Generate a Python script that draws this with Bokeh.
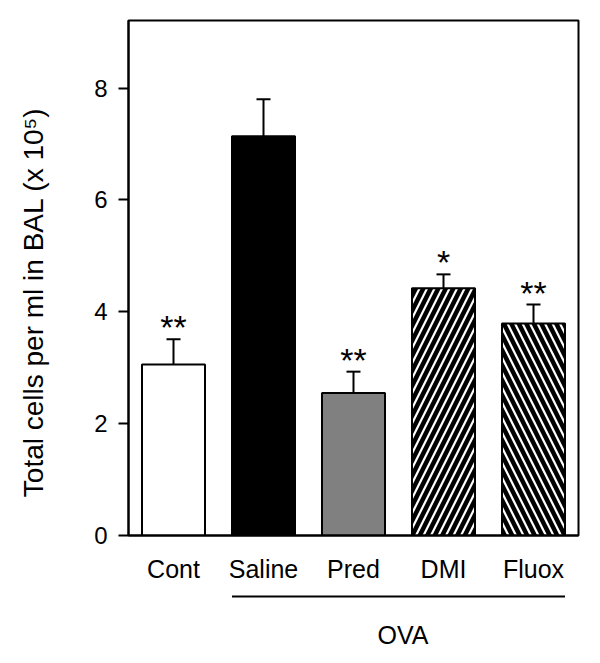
import math
from bokeh.plotting import figure
from bokeh.models import ColumnDataSource, FactorRange, Range1d, Whisker, TeeHead
from bokeh.layouts import column, row
from bokeh.embed import file_html
from bokeh.resources import INLINE
from bokeh.core.properties import value

# ---- data ----
groups = ["Cont", "Saline", "Pred", "DMI", "Fluox"]
means = [3.06, 7.14, 2.55, 4.42, 3.79]
errors = [0.45, 0.66, 0.38, 0.25, 0.34]
stars = ["**", "", "**", "*", "**"]
fills = ["white", "black", "#808080", "white", "white"]
hatches = [" ", " ", " ", "/", "\\"]
y_ticks = [0, 2, 4, 6, 8]
ova_groups = ["Saline", "Fluox"]
ova_label = "OVA"
y_label = "Total cells per ml in BAL (x 10\u2075)"

FONT = "Liberation Sans"
BAR_W = 0.7

upper = [m + e for m, e in zip(means, errors)]
src = ColumnDataSource(dict(x=groups, top=means, upper=upper, err=errors,
                            stars=stars, fill=fills, hatch=hatches))

xr = FactorRange(factors=groups)
yr = Range1d(0, 9.21)

# main plot
p = figure(width=532, height=585, x_range=xr, y_range=yr,
           toolbar_location=None, output_backend="svg",
           min_border_left=68, min_border_right=14,
           min_border_top=20, min_border_bottom=48)
p.outline_line_color = "black"
p.outline_line_width = 2
p.grid.visible = False
p.background_fill_color = "white"
p.border_fill_color = "white"

p.vbar(x="x", top="top", width=BAR_W, source=src,
       fill_color="fill", line_color="black", line_width=2,
       hatch_pattern="hatch", hatch_color="black", hatch_weight=4.5,
       hatch_scale=15)

w = Whisker(base="x", lower="top", upper="upper", source=src,
            line_color="black", line_width=2,
            upper_head=TeeHead(size=14, line_color="black", line_width=2),
            lower_head=None)
p.add_layout(w)

p.text(x="x", y="upper", text="stars", source=src,
       text_align="center", text_baseline="alphabetic",
       text_font=value(FONT), text_font_size="34px", text_color="black",
       y_offset=-12)

p.yaxis.ticker = y_ticks
p.yaxis.minor_tick_line_color = None
p.yaxis.major_tick_out = 10
p.yaxis.major_tick_in = 0
p.yaxis.major_tick_line_width = 2
p.yaxis.axis_line_width = 2
p.yaxis.major_label_text_font = FONT
p.yaxis.major_label_text_font_size = "24px"
p.yaxis.major_label_text_color = "black"
p.yaxis.major_label_standoff = 11

p.xaxis.major_tick_line_color = None
p.xaxis.minor_tick_line_color = None
p.xaxis.axis_line_width = 2
p.xaxis.major_label_text_font = FONT
p.xaxis.major_label_text_font_size = "25px"
p.xaxis.major_label_text_color = "black"
p.xaxis.major_label_standoff = 13

# left strip carrying the y-axis title (shares the y range)
pl = figure(width=60, height=585, x_range=Range1d(0, 1), y_range=yr,
            toolbar_location=None, output_backend="svg",
            x_axis_location=None, y_axis_location=None,
            min_border_left=0, min_border_right=0,
            min_border_top=20, min_border_bottom=48)
pl.outline_line_color = None
pl.grid.visible = False
pl.border_fill_color = "white"
pl.text(x=[0.55], y=[4.17], text=[y_label], angle=math.pi / 2,
        text_align="center", text_baseline="middle",
        text_font=value(FONT), text_font_size="28px", text_color="black")

# lower strip with OVA bracket
p2 = figure(width=592, height=78, x_range=xr, y_range=Range1d(0, 1),
            toolbar_location=None, output_backend="svg",
            x_axis_location=None, y_axis_location=None,
            min_border_left=128, min_border_right=14,
            min_border_top=0, min_border_bottom=0)
p2.outline_line_color = None
p2.grid.visible = False
p2.border_fill_color = "white"

p2.segment(x0=[[ova_groups[0], -BAR_W / 2]], y0=[0.86],
           x1=[[ova_groups[1], BAR_W / 2]], y1=[0.86],
           line_color="black", line_width=2)
p2.text(x=[["Pred", 0.55]], y=[0.36], text=[ova_label],
        text_align="center", text_baseline="middle",
        text_font=value(FONT), text_font_size="25px", text_color="black")

layout = column(row(pl, p, spacing=0), p2, spacing=0)
open("out.html", "w").write(file_html(layout, INLINE))
